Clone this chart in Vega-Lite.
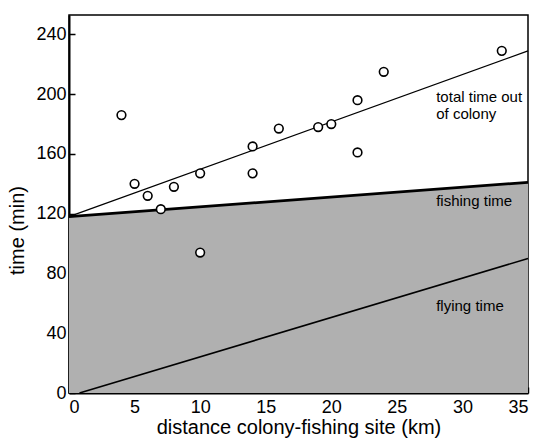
{
  "$schema": "https://vega.github.io/schema/vega-lite/v6.json",
  "autosize": "none",
  "width": 459,
  "height": 378,
  "padding": {"left": 69, "top": 15, "right": 11, "bottom": 47},
  "background": "white",
  "config": {
    "font": "Liberation Sans",
    "view": {"stroke": "black", "strokeWidth": 1.5},
    "axis": {
      "domainColor": "black",
      "domainWidth": 2,
      "tickColor": "black",
      "tickWidth": 1.5,
      "tickSize": -6,
      "labelColor": "black",
      "labelFontSize": 18,
      "titleColor": "black",
      "titleFontSize": 20,
      "titleFontWeight": "normal",
      "grid": false
    }
  },
  "datasets": {
    "obs": [
      {"distance": 4, "time": 186},
      {"distance": 5, "time": 140},
      {"distance": 6, "time": 132},
      {"distance": 7, "time": 123},
      {"distance": 8, "time": 138},
      {"distance": 10, "time": 147},
      {"distance": 10, "time": 94},
      {"distance": 14, "time": 165},
      {"distance": 14, "time": 147},
      {"distance": 16, "time": 177},
      {"distance": 19, "time": 178},
      {"distance": 20, "time": 180},
      {"distance": 22, "time": 196},
      {"distance": 22, "time": 161},
      {"distance": 24, "time": 215},
      {"distance": 33, "time": 229}
    ],
    "total": [
      {"distance": 0, "time": 118},
      {"distance": 35, "time": 229}
    ],
    "fishing": [
      {"distance": 0, "time": 118},
      {"distance": 35, "time": 141}
    ],
    "flying": [
      {"distance": 0.8, "time": 0},
      {"distance": 35, "time": 90}
    ],
    "labels": [
      {"distance": 28.0, "time": 198, "text": "total time out", "bold": false},
      {"distance": 28.0, "time": 187, "text": "of colony", "bold": false},
      {"distance": 28.0, "time": 128.5, "text": "fishing time", "bold": true},
      {"distance": 28.0, "time": 58.5, "text": "flying time", "bold": false}
    ]
  },
  "layer": [
    {
      "data": {"name": "fishing"},
      "mark": {"type": "area", "color": "#b0b0b0", "clip": true},
      "encoding": {
        "x": {"field": "distance", "type": "quantitative", "scale": {"domain": [0, 35], "nice": false},
              "axis": {"values": [0, 5, 10, 15, 20, 25, 30, 35], "title": "distance colony-fishing site (km)", "labelPadding": 11, "titlePadding": 1}},
        "y": {"field": "time", "type": "quantitative", "scale": {"domain": [0, 253], "nice": false},
              "axis": {"values": [0, 40, 80, 120, 160, 200, 240], "title": "time (min)", "labelPadding": 9, "titlePadding": 8, "titleY": 215}}
      }
    },
    {
      "data": {"name": "fishing"},
      "mark": {"type": "line", "color": "black", "strokeWidth": 2.8},
      "encoding": {
        "x": {"field": "distance", "type": "quantitative"},
        "y": {"field": "time", "type": "quantitative"}
      }
    },
    {
      "data": {"name": "total"},
      "mark": {"type": "line", "color": "black", "strokeWidth": 1.3},
      "encoding": {
        "x": {"field": "distance", "type": "quantitative"},
        "y": {"field": "time", "type": "quantitative"}
      }
    },
    {
      "data": {"name": "flying"},
      "mark": {"type": "line", "color": "black", "strokeWidth": 1.6},
      "encoding": {
        "x": {"field": "distance", "type": "quantitative"},
        "y": {"field": "time", "type": "quantitative"}
      }
    },
    {
      "data": {"name": "obs"},
      "mark": {"type": "point", "shape": "circle", "filled": false, "fill": "white", "fillOpacity": 1, "stroke": "black", "strokeWidth": 1.6, "size": 75, "opacity": 1},
      "encoding": {
        "x": {"field": "distance", "type": "quantitative"},
        "y": {"field": "time", "type": "quantitative"}
      }
    },
    {
      "data": {"name": "labels"},
      "mark": {"type": "text", "align": "left", "baseline": "middle", "fontSize": 15, "color": "black"},
      "encoding": {
        "x": {"field": "distance", "type": "quantitative"},
        "y": {"field": "time", "type": "quantitative"},
        "text": {"field": "text"},
        "fontWeight": {"field": "bold", "type": "nominal", "scale": {"domain": [false, true], "range": ["normal", "bold"]}, "legend": null}
      }
    }
  ]
}
